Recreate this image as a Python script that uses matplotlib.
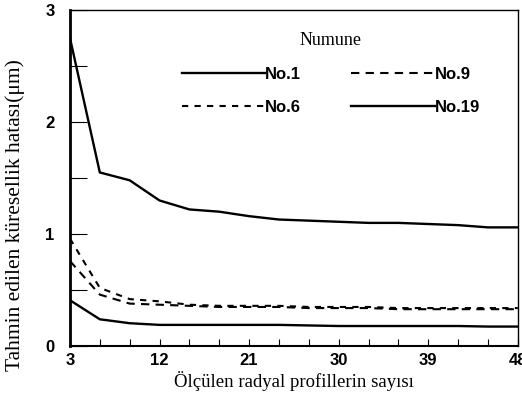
import numpy as np
import matplotlib
matplotlib.use("Agg")
import matplotlib.pyplot as plt
from matplotlib.ticker import MultipleLocator

# number of measured radial profiles
x = [3, 6, 9, 12, 15, 18, 21, 24, 27, 30, 33, 36, 39, 42, 45, 48]

no1 = [2.75, 1.55, 1.48, 1.30, 1.22, 1.20, 1.16, 1.13, 1.12, 1.11, 1.10, 1.10, 1.09, 1.08, 1.06, 1.06]
no6 = [0.96, 0.52, 0.42, 0.40, 0.37, 0.36, 0.36, 0.36, 0.35, 0.35, 0.35, 0.34, 0.34, 0.34, 0.34, 0.34]
no9 = [0.76, 0.46, 0.38, 0.37, 0.36, 0.35, 0.35, 0.35, 0.34, 0.34, 0.34, 0.33, 0.33, 0.33, 0.33, 0.33]
no19 = [0.41, 0.24, 0.205, 0.19, 0.19, 0.19, 0.19, 0.19, 0.185, 0.18, 0.18, 0.18, 0.18, 0.18, 0.175, 0.175]

serif = "Liberation Serif"
sans = "Liberation Sans"

fig = plt.figure(figsize=(5.22, 3.97), dpi=100)
ax = fig.add_axes([0.134, 0.128, 0.858, 0.847])

ax.plot(x, no1, color="black", lw=1.7, label="No.1")
ax.plot(x, no6, color="black", lw=1.5, dashes=(3, 3), label="No.6")
ax.plot(x, no9, color="black", lw=1.5, dashes=(4, 3), label="No.9")
ax.plot(x, no19, color="black", lw=1.7, label="No.19")

ax.set_xlim(3, 48)
ax.set_ylim(0, 3)
ax.set_xticks([3, 12, 21, 30, 39, 48])
ax.xaxis.set_minor_locator(MultipleLocator(3))
ax.set_yticks([0, 1, 2, 3])
ax.yaxis.set_minor_locator(MultipleLocator(0.5))

ax.tick_params(axis="x", which="both", direction="in", length=5, width=0.8, pad=5)
ax.tick_params(axis="y", which="both", direction="in", length=12, width=0.8, pad=11)
for lab in ax.get_xticklabels() + ax.get_yticklabels():
    lab.set_fontfamily(sans)
    lab.set_fontweight("bold")
    lab.set_fontsize(12)

for s in ax.spines.values():
    s.set_linewidth(1.0)
ax.spines["left"].set_linewidth(2.0)
ax.spines["bottom"].set_linewidth(1.5)

ax.set_xlabel("Ölçülen radyal profillerin sayısı", fontfamily=serif, fontsize=13.5, labelpad=2)
ax.set_ylabel("Tahmin edilen küresellik hatası(μm)", fontfamily=serif, fontsize=15.5)
ax.yaxis.set_label_coords(-0.1, 0.39)

leg = ax.legend(ncol=2, title="Numune", frameon=False, loc="upper left",
                bbox_to_anchor=(0.25, 0.935), borderaxespad=0, borderpad=0,
                handlelength=5.0, handletextpad=0.0,
                columnspacing=3.0, labelspacing=1.1,
                prop={"family": sans, "weight": "bold", "size": 12})
leg.get_title().set_fontfamily(serif)
leg.get_title().set_fontsize(13)
leg._legend_box.sep = 13

fig.savefig("out.png", dpi=100)
